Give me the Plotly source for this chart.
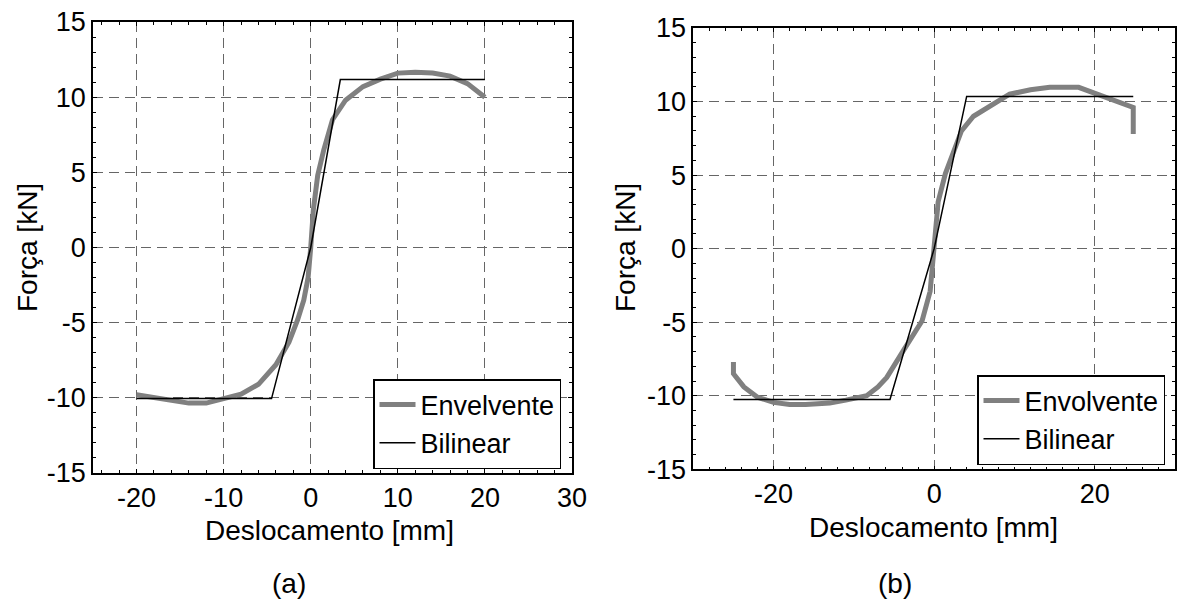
import plotly.graph_objects as go

# ---- data (a) ----
env_a_x = [-20, -18, -16, -14, -12, -10, -8, -6, -4, -2.5, -1.5, -0.8, -0.3, 0, 0.3, 0.8, 1.5, 2.5, 4, 6, 8, 10, 12, 14, 16, 18, 20]
env_a_y = [-9.8, -10.0, -10.2, -10.35, -10.35, -10.05, -9.75, -9.1, -7.8, -6.3, -4.8, -3.5, -2.0, 0, 2.5, 4.8, 6.5, 8.5, 9.8, 10.7, 11.2, 11.6, 11.65, 11.6, 11.4, 10.9, 10.0]
bil_a_x = [-20, -4.5, 0, 3.4, 20]
bil_a_y = [-10.05, -10.05, 0, 11.17, 11.17]

# ---- data (b) ----
env_b_x = [-25, -25, -23.7, -22, -20, -18, -16, -13, -11, -8.4, -7, -5.9, -3.8, -1.5, -0.5, 0, 0.5, 1.4, 3.4, 4.9, 7, 9.4, 12, 14.4, 18, 19.8, 22, 24.8, 24.8]
env_b_y = [-7.7, -8.5, -9.4, -10.1, -10.45, -10.6, -10.6, -10.5, -10.3, -10.0, -9.4, -8.75, -6.9, -4.9, -2.9, 0, 3.2, 5.1, 8.0, 9.0, 9.7, 10.5, 10.8, 10.97, 10.97, 10.6, 10.2, 9.6, 7.8]
bil_b_x = [-25, -5.5, 0, 4.05, 24.8]
bil_b_y = [-10.25, -10.25, 0, 10.35, 10.35]

# ---- tick labels ----
xa_ticks = [-20, -10, 0, 10, 20, 30]
xa_labels = ["-20", "-10", "0", "10", "20", "30"]
xb_ticks = [-20, 0, 20]
xb_labels = ["-20", "0", "20"]
y_ticks = [-15, -10, -5, 0, 5, 10, 15]
y_labels = ["-15", "-10", "-5", "0", "5", "10", "15"]

x_title = "Deslocamento [mm]"
y_title = "Força [kN]"
captions = ["(a)", "(b)"]

FONT = "Liberation Sans, Arial, sans-serif"
FS = 28
TFS = 27
LFS = 27
GRAY = "#808080"

fig = go.Figure()
fig.add_trace(go.Scatter(x=env_a_x, y=env_a_y, mode="lines", name="Envelvente",
                         line=dict(color=GRAY, width=5), xaxis="x", yaxis="y", legend="legend"))
fig.add_trace(go.Scatter(x=bil_a_x, y=bil_a_y, mode="lines", name="Bilinear",
                         line=dict(color="black", width=1.5), xaxis="x", yaxis="y", legend="legend"))
fig.add_trace(go.Scatter(x=env_b_x, y=env_b_y, mode="lines", name="Envolvente",
                         line=dict(color=GRAY, width=5), xaxis="x2", yaxis="y2", legend="legend2"))
fig.add_trace(go.Scatter(x=bil_b_x, y=bil_b_y, mode="lines", name="Bilinear",
                         line=dict(color="black", width=1.5), xaxis="x2", yaxis="y2", legend="legend2"))

def ax(rng, tv, tt, mdtick, domain, anchor):
    return dict(range=rng, tickmode="array", tickvals=tv, ticktext=tt, domain=domain, anchor=anchor,
                automargin=False,
                showline=True, linecolor="black", linewidth=1.5, mirror="ticks",
                ticks="inside", ticklen=4, tickcolor="black", tickwidth=1,
                showgrid=True, gridcolor="#666666", gridwidth=1, griddash="10px,6px",
                zeroline=False, tickfont=dict(family=FONT, size=TFS, color="black"),
                minor=dict(dtick=mdtick, tick0=0, ticks="inside", ticklen=3, tickcolor="black", showgrid=False),
                fixedrange=True)

L_X = [93/1177, 572/1177]
L_Y = [1-473/600, 1-22/600]
R_X = [693.3/1177, 1175/1177]
R_Y = [1-469.3/600, 1-28/600]

leg_common = dict(bgcolor="white", bordercolor="black", borderwidth=1.5, itemwidth=36,
                  font=dict(family=FONT, size=LFS, color="black"), tracegroupgap=0)

fig.update_layout(
    width=1177, height=600,
    margin=dict(l=0, r=0, t=0, b=0, pad=0, autoexpand=False),
    paper_bgcolor="white", plot_bgcolor="white",
    font=dict(family=FONT, size=FS, color="black"),
    xaxis=ax([-25, 30], xa_ticks, xa_labels, 2, L_X, "y"),
    yaxis=ax([-15, 15], y_ticks, y_labels, 1, L_Y, "x"),
    xaxis2=ax([-30, 30], xb_ticks, xb_labels, 2, R_X, "y2"),
    yaxis2=ax([-15, 15], y_ticks, y_labels, 1, R_Y, "x2"),
    legend=dict(x=373/1177, y=1-469/600, xanchor="left", yanchor="bottom", **leg_common),
    legend2=dict(x=977/1177, y=1-465/600, xanchor="left", yanchor="bottom", **leg_common),
    showlegend=True,
)

ann = [
    dict(text=x_title, x=330/1177, y=1-530/600),
    dict(text=x_title, x=933/1177, y=1-527/600),
    dict(text=y_title, x=27/1177, y=1-248/600, textangle=-90),
    dict(text=y_title, x=625/1177, y=1-248/600, textangle=-90),
    dict(text=captions[0], x=289/1177, y=1-583/600),
    dict(text=captions[1], x=895/1177, y=1-583/600),
]
for a in ann:
    a.update(xref="paper", yref="paper", xanchor="center", yanchor="middle", showarrow=False,
             font=dict(family=FONT, size=FS, color="black"))
fig.update_layout(annotations=ann)

fig.write_html("out.html", config={"displayModeBar": False},
               post_script="document.body.style.margin='0px';")
